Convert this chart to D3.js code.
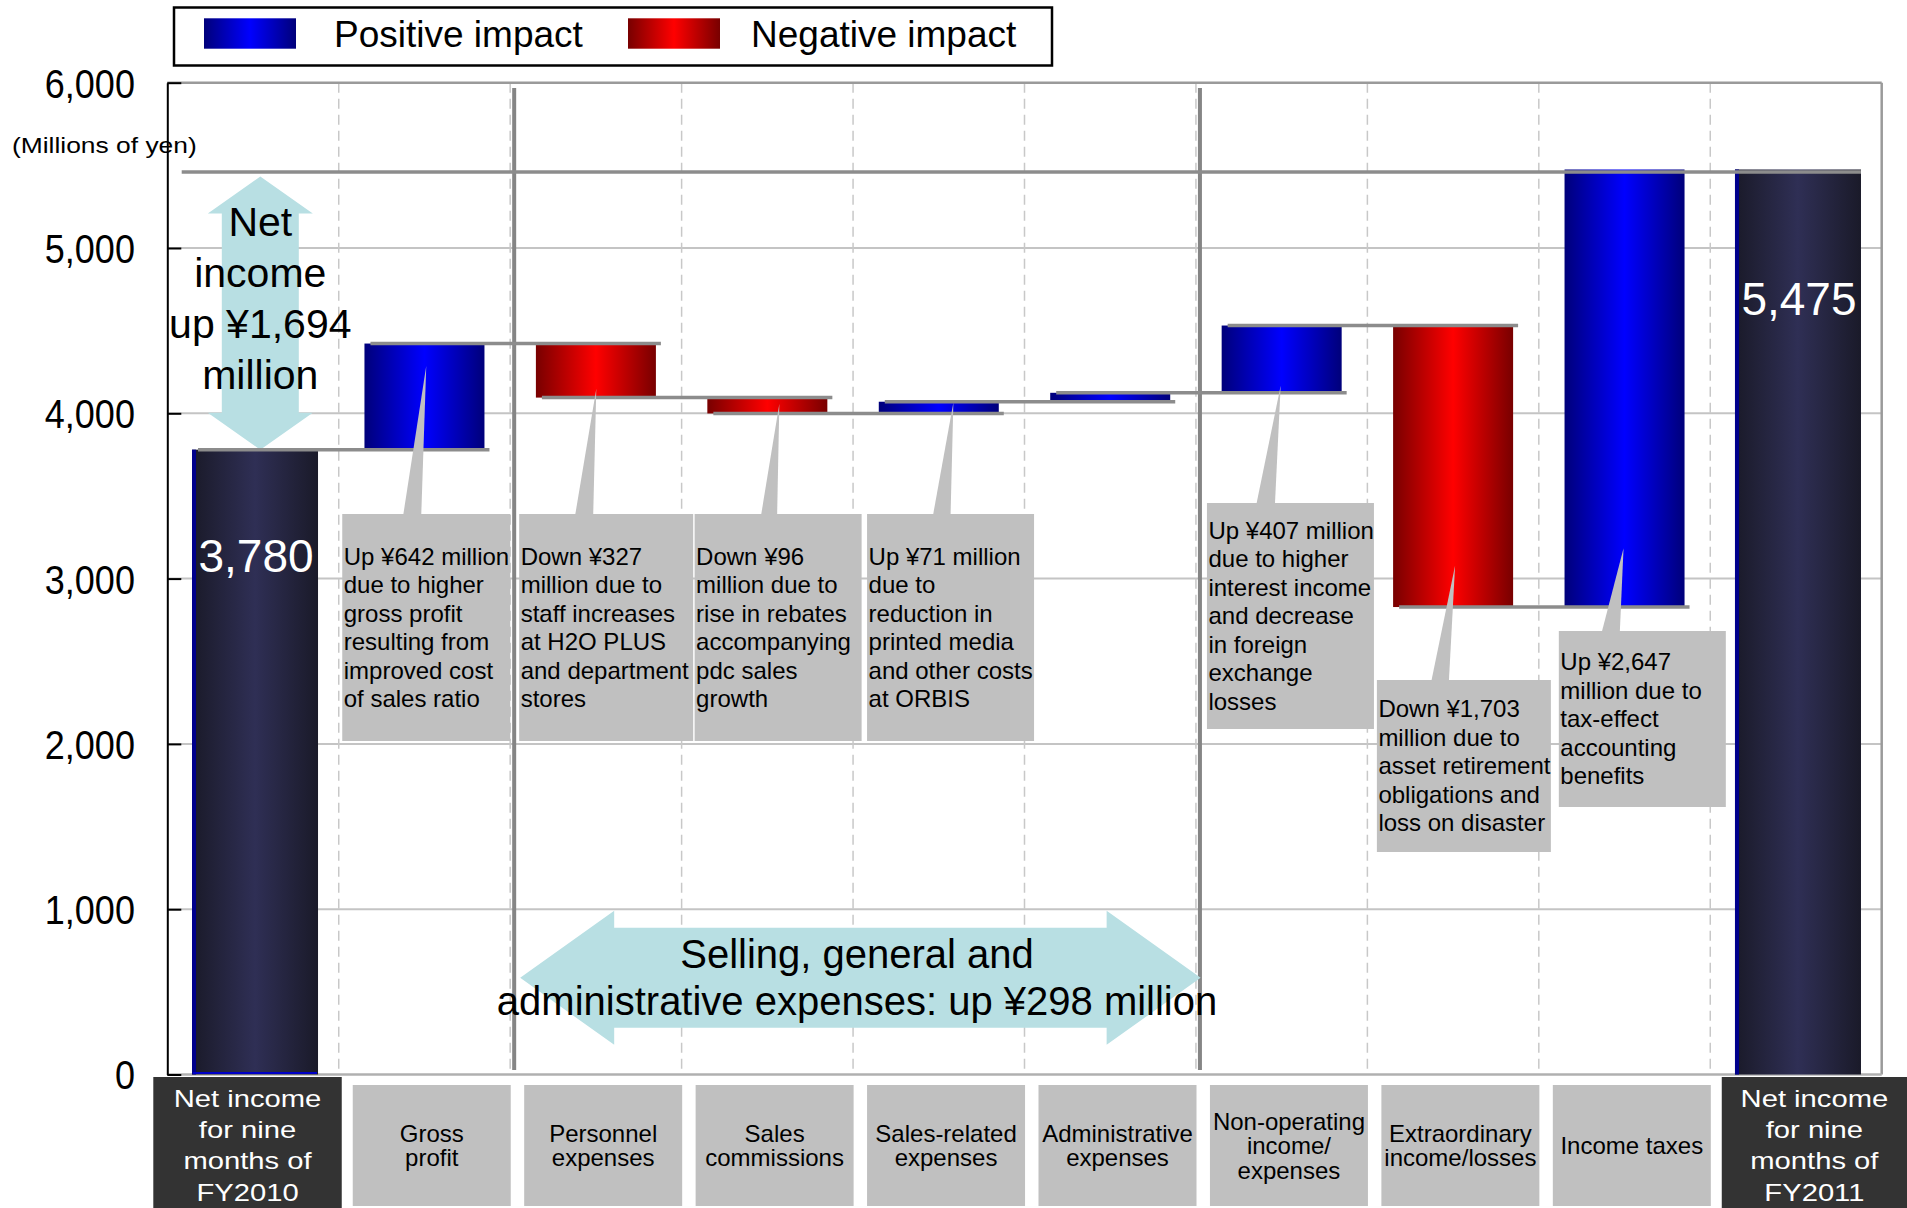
<!DOCTYPE html>
<html><head><meta charset="utf-8">
<script src="https://cdn.jsdelivr.net/npm/d3@7"></script>
<style>
html,body{margin:0;padding:0;background:#fff;}
svg{display:block;font-family:"Liberation Sans",Arial,Helvetica,sans-serif;}
</style></head><body>
<svg id="chart" width="1907" height="1208"></svg>
<script>
// ---------------- DATA ----------------
const categories = ["Net income FY2010","Gross profit","Personnel expenses","Sales commissions","Sales-related expenses","Administrative expenses","Non-operating income/expenses","Extraordinary income/losses","Income taxes","Net income FY2011"];
const categoryLines = [
  ["Net income","for nine","months of","FY2010"],
  ["Gross","profit"],
  ["Personnel","expenses"],
  ["Sales","commissions"],
  ["Sales-related","expenses"],
  ["Administrative","expenses"],
  ["Non-operating","income/","expenses"],
  ["Extraordinary","income/losses"],
  ["Income taxes"],
  ["Net income","for nine","months of","FY2011"]
];
const startValue = 3780;
const changes = [642, -327, -96, 71, 54, 407, -1703, 2647];
const endValue = 5475;
const yTicks = [0, 1000, 2000, 3000, 4000, 5000, 6000];
const legendLabels = ["Positive impact", "Negative impact"];
const calloutBars = [1, 2, 3, 4, 6, 7, 8];
const calloutTexts = [
  ["Up ¥642 million","due to higher","gross profit","resulting from","improved cost","of sales ratio"],
  ["Down ¥327","million due to","staff increases","at H2O PLUS","and department","stores"],
  ["Down ¥96","million due to","rise in rebates","accompanying","pdc sales","growth"],
  ["Up ¥71 million","due to","reduction in","printed media","and other costs","at ORBIS"],
  ["Up ¥407 million","due to higher","interest income","and decrease","in foreign","exchange","losses"],
  ["Down ¥1,703","million due to","asset retirement","obligations and","loss on disaster"],
  ["Up ¥2,647","million due to","tax-effect","accounting","benefits"]
];
const netIncomeNote = ["Net","income","up ¥1,694","million"];
const sgaNote = ["Selling, general and","administrative expenses: up ¥298 million"];
const sgaRange = [2, 6]; // category boundaries spanned by the SG&A arrow

// ---------------- LAYOUT ----------------
const W = 1907, H = 1208;
const plot = {left: 167.3, right: 1881.7, top: 82.7, bottom: 1074.5};
const calloutLayout = [
  {dx: 3.5, w: 168, top: 514, bottom: 741, bL: 64.5, bR: 82.5, tipDx: 1.8, tipV: 4288},
  {dx: 9,   w: 174, top: 514, bottom: 741, bL: 65,   bR: 83,   tipDx: 0.4, tipV: 4149},
  {dx: 13,  w: 167, top: 514, bottom: 741, bL: 79.5, bR: 95.5, tipDx: 12,  tipV: 4058},
  {dx: 14,  w: 167, top: 514, bottom: 741, bL: 80,   bR: 97.5, tipDx: 14.6,tipV: 4066},
  {dx: 11,  w: 167, top: 503, bottom: 729, bL: 60.5, bR: 79,   tipDx: -1,  tipV: 4167},
  {dx: 9.5, w: 174, top: 680, bottom: 852, bL: 64,   bR: 81.5, tipDx: 2,   tipV: 3080},
  {dx: 20,  w: 167, top: 631, bottom: 807, bL: 63,   bR: 81,   tipDx: -1,  tipV: 3183}
];

const svg = d3.select("#chart");
const x = d3.scaleBand().domain(categories).range([plot.left, plot.right]).paddingInner(0.3).paddingOuter(0.15);
const y = d3.scaleLinear().domain([0, 6000]).range([plot.bottom, plot.top]);
const step = x.step();
const bw = x.bandwidth();
const bandStart = i => plot.left + i * step;

// waterfall steps
const steps = [];
let run = startValue;
steps.push({cat: categories[0], lo: 0, hi: startValue, type: "Tot", level: startValue});
changes.forEach((c, i) => {
  const prev = run; run += c;
  steps.push({cat: categories[i + 1], lo: Math.min(prev, run), hi: Math.max(prev, run), type: c >= 0 ? "Pos" : "Neg", level: run});
});
steps.push({cat: categories[9], lo: 0, hi: endValue, type: "Tot", level: endValue});
const barX = (d) => d.type === "Tot" ? x(d.cat) - 1 : x(d.cat);
const barW = (d) => d.type === "Tot" ? bw + 6 : bw;

// gradients
const defs = svg.append("defs");
function grad(id, stops) {
  const g = defs.append("linearGradient").attr("id", id).attr("x1", 0).attr("x2", 1).attr("y1", 0).attr("y2", 0);
  stops.forEach(([o, c]) => g.append("stop").attr("offset", o).attr("stop-color", c));
}
grad("gPos", [[0, "#00007a"], [0.5, "#0000ff"], [1, "#00007a"]]);
grad("gNeg", [[0, "#780000"], [0.5, "#ff0000"], [1, "#780000"]]);
grad("gTot", [[0, "#1a1a29"], [0.5, "#2f2f55"], [1, "#1a1a29"]]);

// ---------------- LEGEND ----------------
const lg = svg.append("g");
lg.append("rect").attr("x", 174).attr("y", 7.5).attr("width", 878).attr("height", 58)
  .attr("fill", "#fff").attr("stroke", "#000").attr("stroke-width", 2.5);
const legendPos = [{sx: 204, tx: 334, g: "gPos"}, {sx: 628, tx: 751, g: "gNeg"}];
legendLabels.forEach((lab, i) => {
  lg.append("rect").attr("x", legendPos[i].sx).attr("y", 18.3).attr("width", 92).attr("height", 30.4)
    .attr("fill", `url(#${legendPos[i].g})`);
  lg.append("text").attr("x", legendPos[i].tx).attr("y", 46.5).attr("font-size", 37).attr("fill", "#000").text(lab);
});

// ---------------- GRID ----------------
const grid = svg.append("g");
grid.selectAll("line.h").data(yTicks.filter(t => t > 0 && t < 6000)).join("line").attr("class", "h")
  .attr("x1", plot.left).attr("x2", plot.right).attr("y1", d => y(d)).attr("y2", d => y(d))
  .attr("stroke", "#c4c4c4").attr("stroke-width", 2);
grid.selectAll("line.v").data(d3.range(1, 10)).join("line").attr("class", "v")
  .attr("x1", d => bandStart(d)).attr("x2", d => bandStart(d)).attr("y1", plot.top).attr("y2", plot.bottom)
  .attr("stroke", "#c8c8c8").attr("stroke-width", 1.5).attr("stroke-dasharray", "10,6");
grid.append("line").attr("x1", plot.left).attr("x2", plot.right).attr("y1", y(6000)).attr("y2", y(6000))
  .attr("stroke", "#9a9a9a").attr("stroke-width", 2.5);
grid.append("line").attr("x1", plot.right).attr("x2", plot.right).attr("y1", plot.top).attr("y2", plot.bottom)
  .attr("stroke", "#9a9a9a").attr("stroke-width", 2.5);
grid.append("line").attr("x1", plot.left).attr("x2", plot.right).attr("y1", y(0)).attr("y2", y(0))
  .attr("stroke", "#b0b0b0").attr("stroke-width", 2.5);
// solid separators around SG&A group
grid.selectAll("line.s").data(sgaRange).join("line").attr("class", "s")
  .attr("x1", d => bandStart(d) + 4).attr("x2", d => bandStart(d) + 4).attr("y1", 88).attr("y2", 1070)
  .attr("stroke", "#858585").attr("stroke-width", 4);

// ---------------- ARROWS ----------------
const arrowFill = "#b8dfe3";
// vertical net income arrow
{
  const cx = bandStart(0) + 93, t = y(endValue) + 7, b = y(startValue);
  const hw = 52.5, sw = 38.5, hl = 37;
  const p = `M${cx},${t} L${cx + hw},${t + hl} L${cx + sw},${t + hl} L${cx + sw},${b - hl} L${cx + hw},${b - hl} L${cx},${b} L${cx - hw},${b - hl} L${cx - sw},${b - hl} L${cx - sw},${t + hl} L${cx - hw},${t + hl} Z`;
  svg.append("path").attr("d", p).attr("fill", arrowFill);
}
// horizontal SG&A arrow
{
  const l = bandStart(sgaRange[0]) + 10, r = bandStart(sgaRange[1]) + 4.7, cy = y(585);
  const hh = 67, sh = 50, hl = 94;
  const p = `M${l},${cy} L${l + hl},${cy - hh} L${l + hl},${cy - sh} L${r - hl},${cy - sh} L${r - hl},${cy - hh} L${r},${cy} L${r - hl},${cy + hh} L${r - hl},${cy + sh} L${l + hl},${cy + sh} L${l + hl},${cy + hh} Z`;
  svg.append("path").attr("d", p).attr("fill", arrowFill);
}

// ---------------- BARS ----------------
const bars = svg.append("g");
bars.selectAll("rect.bar").data(steps).join("rect").attr("class", "bar")
  .attr("x", barX).attr("width", barW)
  .attr("y", d => y(d.hi)).attr("height", d => Math.max(1, y(d.lo) - y(d.hi)))
  .attr("fill", d => `url(#g${d.type})`);
bars.selectAll("rect.edge").data(steps.filter(d => d.type === "Tot")).join("rect").attr("class", "edge")
  .attr("x", barX).attr("width", 4).attr("y", d => y(d.hi)).attr("height", d => y(d.lo) - y(d.hi))
  .attr("fill", "#00008c");
bars.append("line").attr("x1", x(categories[0])).attr("x2", x(categories[0]) + bw + 4)
  .attr("y1", y(0) - 1.5).attr("y2", y(0) - 1.5).attr("stroke", "#0000c8").attr("stroke-width", 2);

// connectors
const conn = svg.append("g");
const connData = steps.slice(0, 8).map((d, i) => ({level: d.level, x1: barX(d) + 6, x2: barX(steps[i + 1]) + barW(steps[i + 1]) + 5}));
conn.selectAll("line").data(connData).join("line")
  .attr("x1", d => d.x1).attr("x2", d => d.x2).attr("y1", d => y(d.level)).attr("y2", d => y(d.level))
  .attr("stroke", "#8c8c8c").attr("stroke-width", 3.5);
conn.append("line").attr("x1", plot.left + 14.4).attr("x2", barX(steps[9]) + barW(steps[9]))
  .attr("y1", y(endValue) + 2.5).attr("y2", y(endValue) + 2.5).attr("stroke", "#8c8c8c").attr("stroke-width", 3.5);

// ---------------- CALLOUTS ----------------
const co = svg.append("g");
calloutBars.forEach((bi, k) => {
  const L = calloutLayout[k];
  const bs = bandStart(bi);
  const d = steps[bi];
  const tipX = x(d.cat) + bw / 2 + L.tipDx, tipY = y(L.tipV);
  co.append("path").attr("d", `M${bs + L.bL},${L.top + 1} L${tipX},${tipY} L${bs + L.bR},${L.top + 1} Z`).attr("fill", "#c0c0c0");
  co.append("rect").attr("x", bs + L.dx).attr("y", L.top).attr("width", L.w).attr("height", L.bottom - L.top).attr("fill", "#c0c0c0");
  const lines = calloutTexts[k];
  const lh = 28.5;
  const first = L.top + ((L.bottom - L.top) - lines.length * lh) / 2 + 22.5;
  co.append("text").attr("font-size", 24).attr("fill", "#000")
    .selectAll("tspan").data(lines).join("tspan")
    .attr("x", bs + L.dx + 1.5).attr("y", (t, j) => first + j * lh).text(t => t);
});

// ---------------- Y AXIS ----------------
const yAxis = d3.axisLeft(y).tickValues(yTicks).tickFormat(d3.format(",")).tickSizeInner(-14).tickSizeOuter(0).tickPadding(36);
const ga = svg.append("g").attr("transform", `translate(${plot.left},0)`).call(yAxis);
ga.select(".domain").attr("stroke", "#000").attr("stroke-width", 2);
ga.selectAll(".tick line").attr("stroke", "#000").attr("stroke-width", 2);
ga.selectAll(".tick text").attr("font-size", 40).attr("fill", "#000").attr("dy", "0.36em")
  .attr("transform", "scale(0.9,1)")
  .attr("font-family", '"Liberation Sans",Arial,sans-serif');
svg.append("text").attr("transform", "translate(12,153) scale(1.2,1)").attr("font-size", 22).attr("fill", "#000").text("(Millions of yen)");

// ---------------- TEXT ANNOTATIONS ----------------
svg.append("text").attr("font-size", 41).attr("fill", "#000").attr("text-anchor", "middle")
  .selectAll("tspan").data(netIncomeNote).join("tspan")
  .attr("x", bandStart(0) + 93).attr("y", (t, j) => y(endValue) + 67 + j * 51).text(t => t);
svg.append("text").attr("font-size", 40).attr("fill", "#000").attr("text-anchor", "middle")
  .selectAll("tspan").data(sgaNote).join("tspan")
  .attr("x", (bandStart(sgaRange[0]) + bandStart(sgaRange[1])) / 2 + 4).attr("y", (t, j) => 968 + j * 47).text(t => t);

// value labels on totals
svg.selectAll("text.val").data([steps[0], steps[9]]).join("text").attr("class", "val")
  .attr("x", d => barX(d) + barW(d) / 2 + 1).attr("y", d => y(d.hi) + (d === steps[0] ? 122 : 146))
  .attr("text-anchor", "middle").attr("font-size", 46).attr("fill", "#fff").text(d => d3.format(",")(d.hi));

// ---------------- CATEGORY LABELS ----------------
const cl = svg.append("g");
categories.forEach((c, i) => {
  const lines = categoryLines[i];
  if (i === 0 || i === 9) {
    const bx = i === 0 ? bandStart(0) - 14 : bandStart(9) + 11.5;
    const bwid = i === 0 ? step + 17 : W - bx;
    cl.append("rect").attr("x", bx).attr("y", 1077).attr("width", bwid).attr("height", H - 1077).attr("fill", "#333333");
    const cx = bx + bwid / 2;
    lines.forEach((t, j) => {
      cl.append("text").attr("transform", `translate(${cx},${1106.7 + j * 31.3}) scale(1.27,1)`)
        .attr("text-anchor", "middle").attr("font-size", 23).attr("fill", "#fff").text(t);
    });
  } else {
    const bx = bandStart(i) + 14, bwid = 158;
    cl.append("rect").attr("x", bx).attr("y", 1085).attr("width", bwid).attr("height", 121).attr("fill", "#c0c0c0");
    const lh = 24.5, cy = 1145.5;
    const first = cy - (lines.length - 1) * lh / 2 + 8.5;
    cl.append("text").attr("font-size", 24).attr("fill", "#000").attr("text-anchor", "middle")
      .selectAll("tspan").data(lines).join("tspan")
      .attr("x", bx + bwid / 2).attr("y", (t, j) => first + j * lh).text(t => t);
  }
});
</script>
</body></html>
